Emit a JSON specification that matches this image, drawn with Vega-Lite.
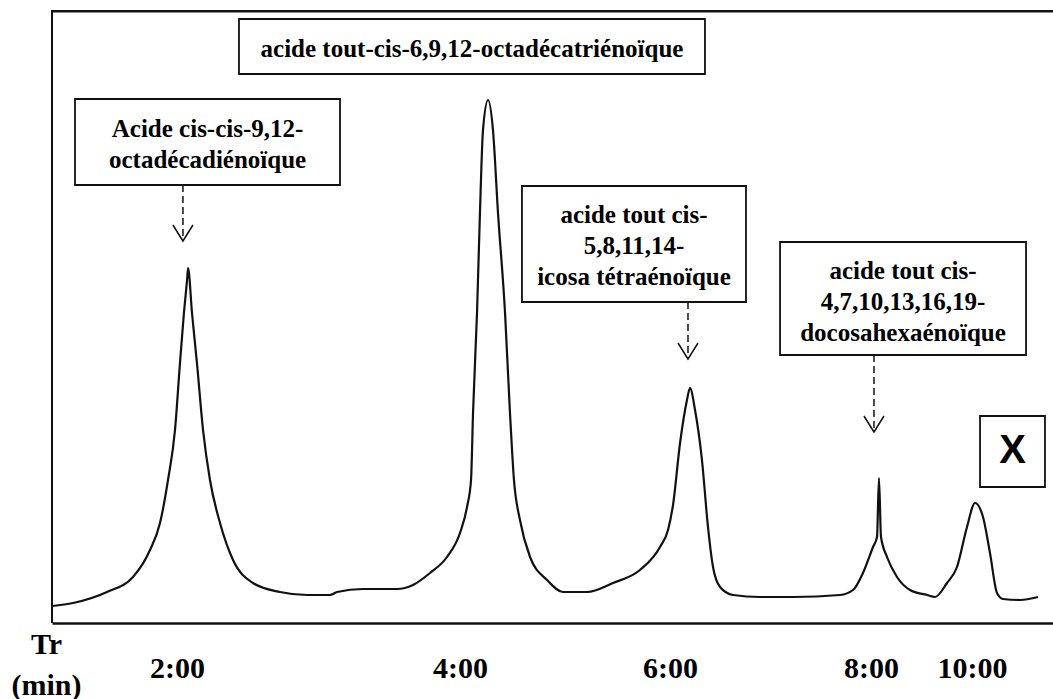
{
  "$schema": "https://vega.github.io/schema/vega-lite/v6.json",
  "autosize": "none",
  "width": 1001,
  "height": 623,
  "padding": {"left": 52, "top": 0, "right": 0, "bottom": 76},
  "background": "white",
  "config": {"view": {"stroke": null}},
  "datasets": {
    "curve": [
      {"t":1.000,"s":17},{"t":1.168,"s":20},{"t":1.44,"s":31},{"t":1.648,"s":46},{"t":1.784,"s":73},{"t":1.864,"s":100},{"t":1.928,"s":143},{"t":1.984,"s":193},{"t":2.021,"s":260},{"t":2.049,"s":310},{"t":2.071,"s":343},{"t":2.078,"s":355},{"t":2.106,"s":310},{"t":2.141,"s":260},{"t":2.184,"s":193},{"t":2.233,"s":143},{"t":2.304,"s":100},{"t":2.396,"s":63},{"t":2.537,"s":40},{"t":2.728,"s":31},{"t":2.919,"s":28},{"t":3.081,"s":28},{"t":3.131,"s":31},{"t":3.314,"s":34},{"t":3.555,"s":34},{"t":3.668,"s":38},{"t":3.788,"s":50},{"t":3.908,"s":66},{"t":4.000,"s":90},{"t":4.067,"s":116},{"t":4.105,"s":143},{"t":4.124,"s":210},{"t":4.162,"s":310},{"t":4.190,"s":410},{"t":4.219,"s":493},{"t":4.267,"s":523},{"t":4.314,"s":493},{"t":4.362,"s":410},{"t":4.429,"s":310},{"t":4.476,"s":210},{"t":4.514,"s":143},{"t":4.571,"s":103},{"t":4.667,"s":66},{"t":4.829,"s":43},{"t":4.981,"s":31},{"t":5.210,"s":31},{"t":5.457,"s":40},{"t":5.714,"s":53},{"t":5.905,"s":76},{"t":5.981,"s":93},{"t":6.030,"s":118},{"t":6.100,"s":180},{"t":6.169,"s":223},{"t":6.199,"s":235},{"t":6.249,"s":213},{"t":6.318,"s":163},{"t":6.378,"s":96},{"t":6.428,"s":56},{"t":6.498,"s":36},{"t":6.627,"s":28},{"t":6.896,"s":26},{"t":7.224,"s":26},{"t":7.692,"s":28},{"t":7.821,"s":33},{"t":7.920,"s":50},{"t":8.040,"s":76},{"t":8.119,"s":86},{"t":8.158,"s":145},{"t":8.198,"s":86},{"t":8.317,"s":66},{"t":8.515,"s":46},{"t":8.772,"s":33},{"t":9.109,"s":28},{"t":9.267,"s":26},{"t":9.505,"s":40},{"t":9.703,"s":56},{"t":9.901,"s":96},{"t":10.037,"s":120},{"t":10.136,"s":106},{"t":10.222,"s":70},{"t":10.309,"s":30},{"t":10.383,"s":24},{"t":10.593,"s":23},{"t":10.815,"s":26}
    ],
    "boxes": [
      {"t0":1.184,"t1":3.152,"s0":438,"s1":524,"cx":2.216,"cy":494,"label":"Acide cis-cis-9,12-\noctadécadiénoïque","kind":"name"},
      {"t0":2.438,"t1":6.348,"s0":549,"s1":604,"cx":4.114,"cy":574,"label":"acide tout-cis-6,9,12-octadécatriénoïque","kind":"name"},
      {"t0":4.590,"t1":6.756,"s0":321,"s1":437,"cx":5.657,"cy":408,"label":"acide tout cis-\n5,8,11,14-\nicosa tétraénoïque","kind":"name"},
      {"t0":7.095,"t1":10.667,"s0":268,"s1":381,"cx":8.634,"cy":352,"label":"acide tout cis-\n4,7,10,13,16,19-\ndocosahexaénoïque","kind":"name"},
      {"t0":10.099,"t1":10.901,"s0":136,"s1":207,"cx":10.500,"cy":172,"label":"X","kind":"x"}
    ],
    "arrows": [
      {"t":2.042,"s0":438,"s1":382},
      {"t":6.179,"s0":321,"s1":264},
      {"t":8.059,"s0":268,"s1":191}
    ],
    "border": [
      {"ta":1,"tb":11,"sa":610.5,"sb":613},
      {"ta":0.992,"tb":1.008,"sa":0,"sb":613}
    ]
  },
  "layer": [
    {
      "data": {"name": "curve"},
      "mark": {"type": "line", "color": "#111111", "strokeWidth": 2.2, "interpolate": "monotone"},
      "encoding": {
        "x": {
          "field": "t",
          "type": "quantitative",
          "scale": {"domain": [1, 2, 4, 6, 8, 10, 11], "range": [0, 125, 408, 618, 819, 920, 1001], "nice": false, "zero": false},
          "axis": {
            "values": [2, 4, 6, 8, 10],
            "labelExpr": "datum.value + ':00'",
            "grid": false,
            "ticks": false,
            "tickSize": 0,
            "domain": true,
            "domainColor": "#111111",
            "domainWidth": 2.5,
            "labelFont": "Liberation Serif",
            "labelFontSize": 30,
            "labelFontWeight": "bold",
            "labelColor": "#000000",
            "labelBaseline": "alphabetic",
            "labelPadding": 54,
            "labelFlush": false,
            "labelOverlap": false,
            "labelBound": false,
            "title": ["Tr", "(min)"],
            "titleFont": "Liberation Serif",
            "titleFontSize": 30,
            "titleFontWeight": "bold",
            "titleColor": "#000000",
            "titleX": -6,
            "titleY": 30,
            "titleAlign": "center",
            "titleBaseline": "alphabetic",
            "titleLineHeight": 41,
            "titleAngle": 0
          }
        },
        "y": {
          "field": "s",
          "type": "quantitative",
          "scale": {"domain": [0, 623], "nice": false, "zero": false},
          "axis": null
        }
      }
    },
    {
      "data": {"name": "border"},
      "mark": {"type": "rect", "fill": "#111111", "strokeWidth": 0},
      "encoding": {
        "x": {"field": "ta", "type": "quantitative"},
        "x2": {"field": "tb"},
        "y": {"field": "sa", "type": "quantitative"},
        "y2": {"field": "sb"}
      }
    },
    {
      "data": {"name": "boxes"},
      "mark": {"type": "rect", "fill": "white", "stroke": "#111111", "strokeWidth": 1.8},
      "encoding": {
        "x": {"field": "t0", "type": "quantitative"},
        "x2": {"field": "t1"},
        "y": {"field": "s0", "type": "quantitative"},
        "y2": {"field": "s1"}
      }
    },
    {
      "data": {"name": "boxes"},
      "transform": [{"filter": "datum.kind === 'name'"}],
      "mark": {"type": "text", "font": "Liberation Serif", "fontSize": 25, "fontWeight": "bold", "color": "#000000", "align": "center", "baseline": "middle", "lineBreak": "\n", "lineHeight": 31},
      "encoding": {
        "x": {"field": "cx", "type": "quantitative"},
        "y": {"field": "cy", "type": "quantitative"},
        "text": {"field": "label"}
      }
    },
    {
      "data": {"name": "boxes"},
      "transform": [{"filter": "datum.kind === 'x'"}],
      "mark": {"type": "text", "font": "Liberation Sans", "fontSize": 40, "fontWeight": "bold", "color": "#000000", "align": "center", "baseline": "middle"},
      "encoding": {
        "x": {"field": "cx", "type": "quantitative"},
        "y": {"field": "cy", "type": "quantitative"},
        "text": {"field": "label"}
      }
    },
    {
      "data": {"name": "arrows"},
      "mark": {"type": "rule", "color": "#111111", "strokeWidth": 1.5, "strokeDash": [7, 4]},
      "encoding": {
        "x": {"field": "t", "type": "quantitative"},
        "y": {"field": "s0", "type": "quantitative"},
        "y2": {"field": "s1"}
      }
    },
    {
      "data": {"name": "arrows"},
      "mark": {"type": "point", "shape": "M-1,-1.6L0,0L1,-1.6", "filled": false, "stroke": "#111111", "strokeWidth": 1.5, "size": 400, "opacity": 1},
      "encoding": {
        "x": {"field": "t", "type": "quantitative"},
        "y": {"field": "s1", "type": "quantitative"}
      }
    }
  ]
}
